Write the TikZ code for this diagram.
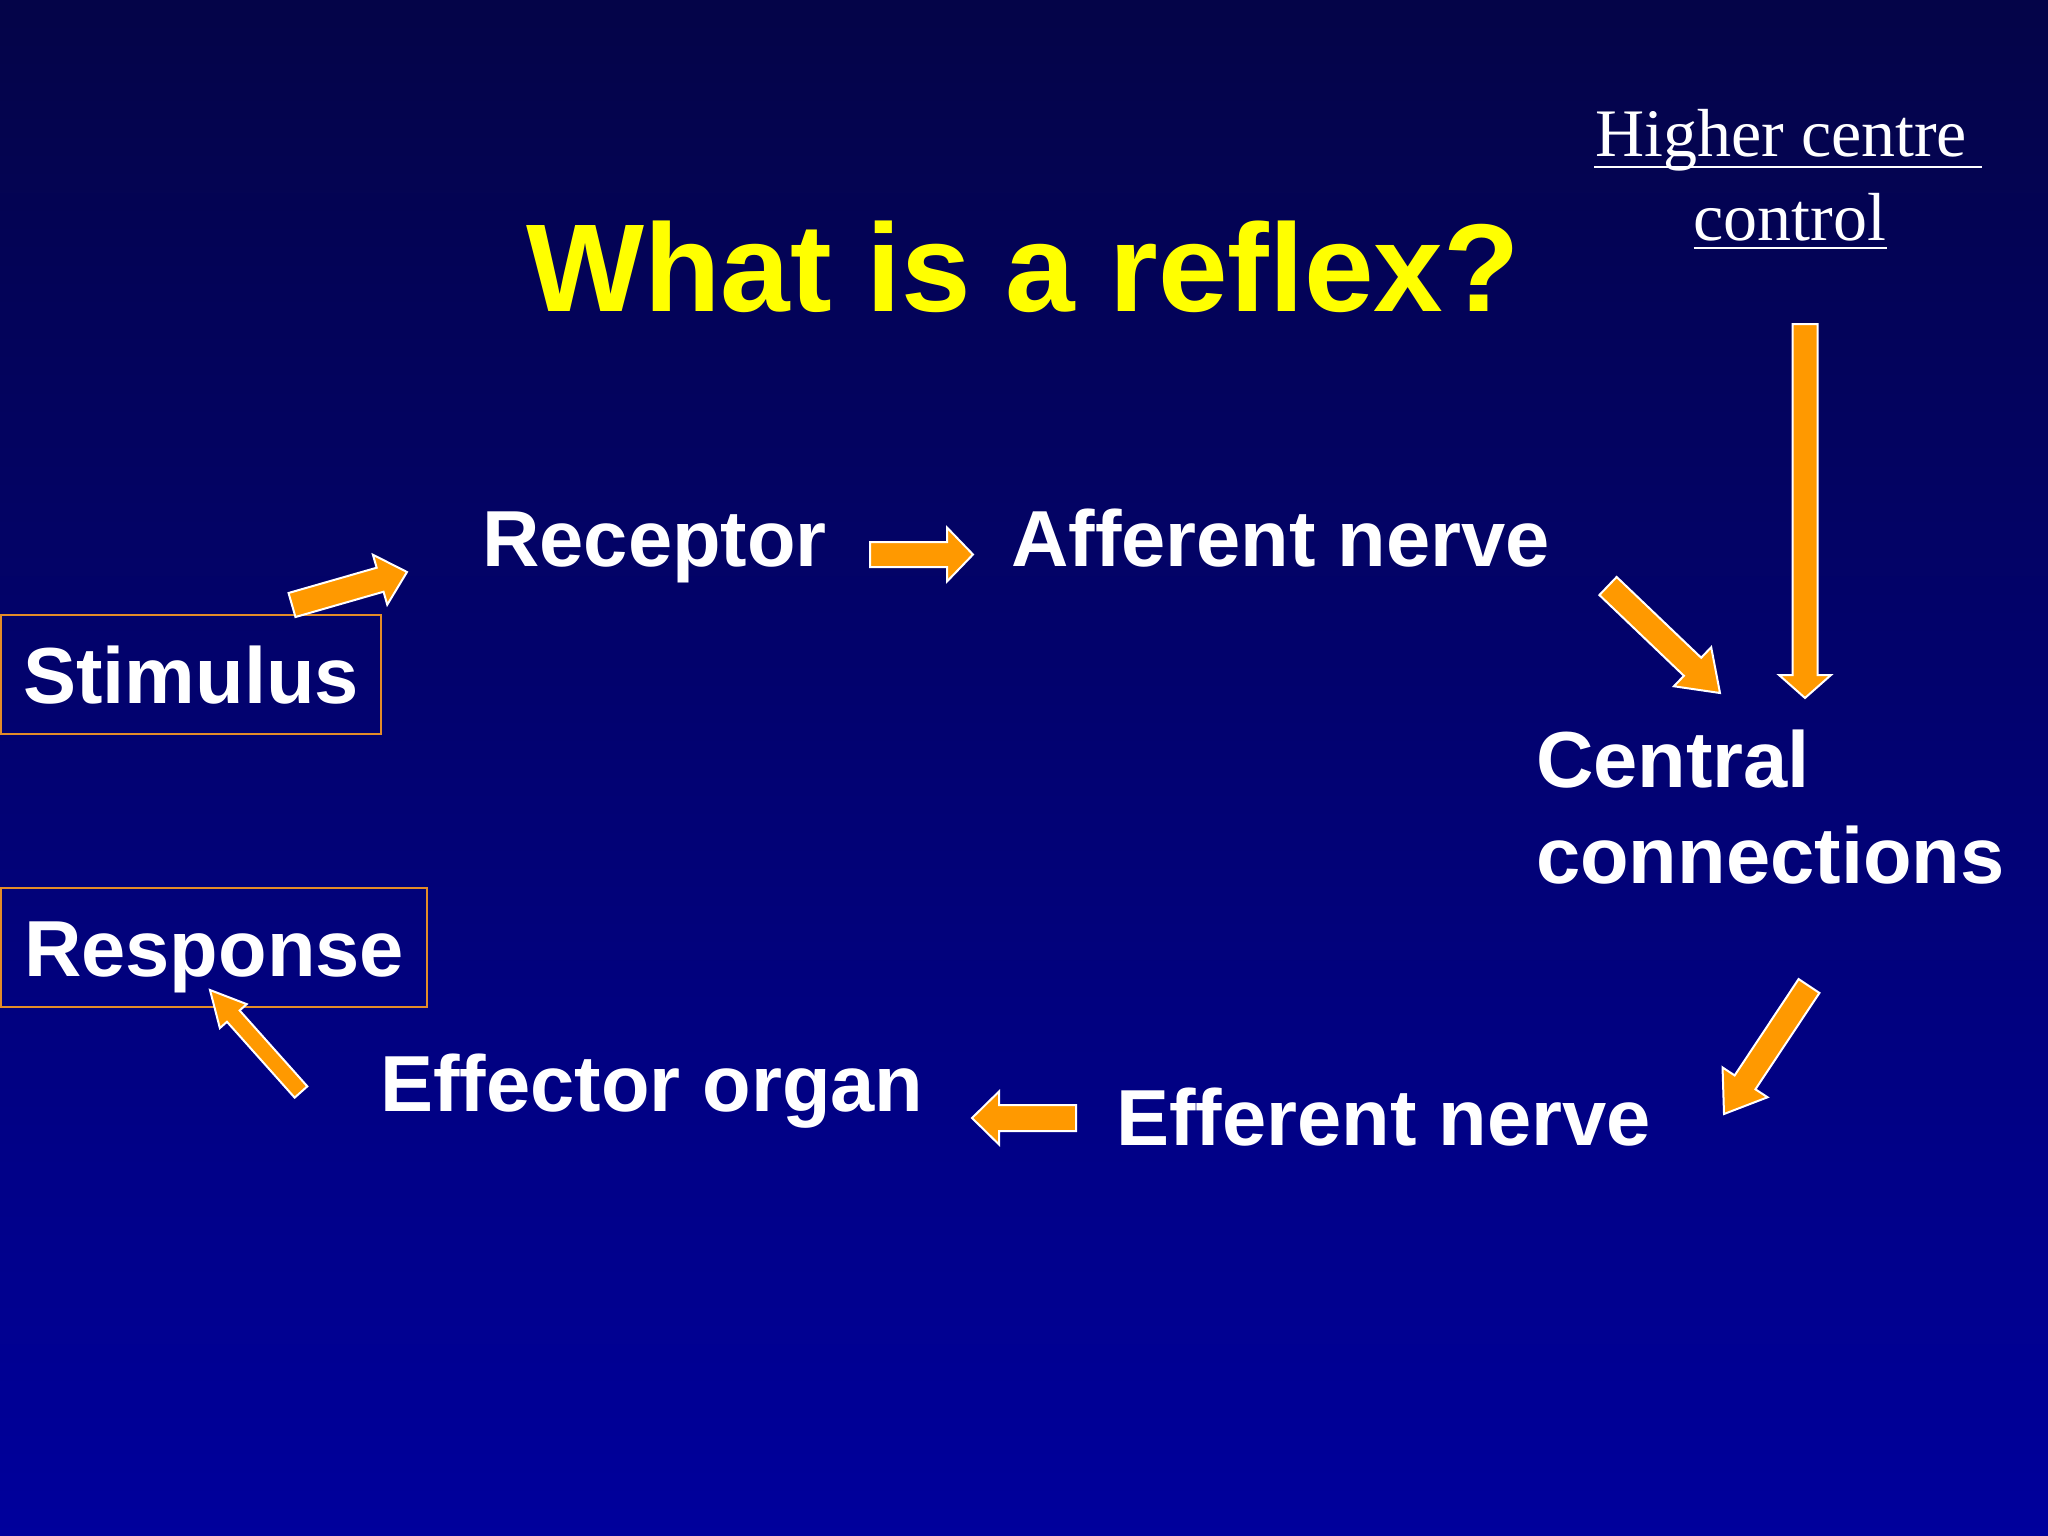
\documentclass[tikz,border=0pt]{standalone}
\usepackage{fontspec}
\setmainfont{Liberation Sans}
\newfontfamily\serifhc{Liberation Serif}
\usetikzlibrary{calc}
\definecolor{bgtop}{RGB}{4,4,72}
\definecolor{bgbot}{RGB}{0,0,156}
\definecolor{arrfill}{RGB}{255,153,0}
\definecolor{boxline}{RGB}{228,140,40}
\definecolor{titleyellow}{RGB}{255,255,0}
\tikzset{
  barrow/.style={fill=arrfill, draw=white, line width=2pt, line join=miter},
  lbl/.style={text=white, inner sep=0pt, font=\bfseries\fontsize{79.5}{88}\selectfont},
  framebox/.style={draw=boxline, line width=2.2pt, text=white, inner sep=0pt,
     font=\bfseries\fontsize{79.5}{88}\selectfont, text height=57pt, text depth=0pt},
  hctext/.style={text=white, inner sep=0pt, font=\serifhc\fontsize{68}{80}\selectfont},
  uline/.style={draw=white, line width=2.5pt}
}
\newcommand\blockarr[6][]{%
  \path ($(#3)!#6!(#2)$) coordinate (hb);
  \draw[barrow,#1] ($(#2)!#4!90:(#3)$) -- ($(hb)!#4!-90:(#2)$) -- ($(hb)!#5!-90:(#2)$)
     -- (#3) -- ($(hb)!#5!90:(#2)$) -- ($(hb)!#4!90:(#2)$) -- ($(#2)!#4!-90:(#3)$) -- cycle;}
\begin{document}
\begin{tikzpicture}[x=1pt,y=-1pt]
\useasboundingbox (0,0) rectangle (2048,1536);
\shade[top color=bgtop, bottom color=bgbot] (0,0) rectangle (2048,1536);

% title
\node[text=titleyellow, inner sep=0pt, anchor=base, font=\bfseries\fontsize{125}{130}\selectfont] (title) at (1023,311) {What is a reflex?};

% higher centre control
\node[hctext, anchor=base west] (hc1) at (1595,157) {Higher centre};
\node[hctext, anchor=base] (hc2) at (1790,240) {control};
\draw[uline] ($(hc1.base west)+(-1,10)$) -- ($(hc1.base east)+(15,10)$);
\draw[uline] ($(hc2.base west)+(0,8)$) -- ($(hc2.base east)+(0,8)$);

% labels
\node[framebox, minimum width=380pt, minimum height=119pt, anchor=north west] (stim) at (0,614) {Stimulus};
\node[framebox, minimum width=426pt, minimum height=119pt, anchor=north west] (resp) at (0,887) {Response};
\node[lbl, anchor=base west] (rec) at (482,566) {Receptor};
\node[lbl, anchor=base west] (aff) at (1011,566) {Afferent nerve};
\node[lbl, anchor=base west] (cen1) at (1536,787) {Central};
\node[lbl, anchor=base west] (cen2) at (1536,883) {connections};
\node[lbl, anchor=base west] (eff) at (1116,1145) {Efferent nerve};
\node[lbl, anchor=base west] (effo) at (380,1111) {Effector organ};

% connector end points
\coordinate (a1s) at (292,605);   \coordinate (a1e) at (407,572);
\coordinate (a2s) at (870,554.5); \coordinate (a2e) at (973,554.5);
\coordinate (a3s) at (1608,586);  \coordinate (a3e) at (1720,693);
\coordinate (a4s) at (1805,324);  \coordinate (a4e) at (1805,698);
\coordinate (a5s) at (1809,986);  \coordinate (a5e) at (1724,1114);
\coordinate (a6s) at (1076,1118); \coordinate (a6e) at (972,1118);
\coordinate (a7s) at (301,1092);  \coordinate (a7e) at (210,990);

\blockarr{a1s}{a1e}{12.5pt}{26pt}{28pt}
\blockarr{a2s}{a2e}{12.5pt}{27pt}{26pt}
\blockarr{a3s}{a3e}{12.5pt}{27pt}{38pt}
\blockarr{a4s}{a4e}{12.5pt}{26pt}{23pt}
\blockarr{a5s}{a5e}{12.5pt}{27pt}{38pt}
\blockarr{a6s}{a6e}{13pt}{26.5pt}{27pt}
\blockarr{a7s}{a7e}{8.5pt}{18pt}{35pt}
\end{tikzpicture}
\end{document}
